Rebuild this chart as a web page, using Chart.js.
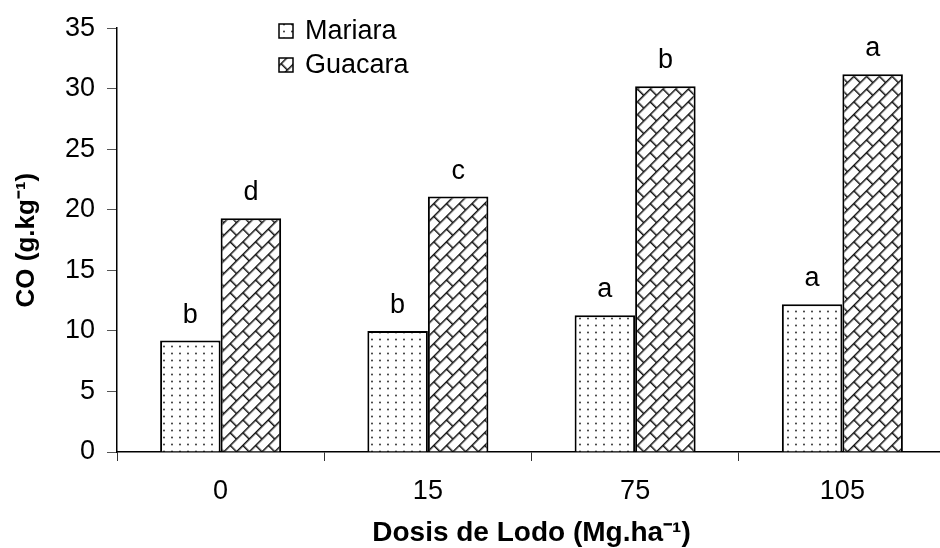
<!DOCTYPE html>
<html>
<head>
<meta charset="utf-8">
<script src="https://cdn.jsdelivr.net/npm/chart.js@4"></script>
<style>
  html, body { margin: 0; padding: 0; background: #fff; overflow: hidden; }
  #wrap { width: 948px; height: 548px; }
</style>
</head>
<body>
<div id="wrap"><canvas id="chartCO" width="948" height="548"></canvas></div>
<script>
// data
var dosis = ['0', '15', '75', '105'];
var mariara = [9.2, 10.0, 11.3, 12.2];
var guacara = [19.3, 21.1, 30.2, 31.2];
var letrasMariara = ['b', 'b', 'a', 'a'];
var letrasGuacara = ['d', 'c', 'b', 'a'];
var seriesNames = ['Mariara', 'Guacara'];

var FONT = 'Arial, "Liberation Sans", sans-serif';

function dotPattern() {
  var c = document.createElement('canvas');
  c.width = 8; c.height = 7;
  var g = c.getContext('2d');
  g.fillStyle = '#fff';
  g.fillRect(0, 0, 8, 7);
  g.fillStyle = '#222';
  g.beginPath();
  g.arc(4, 3.5, 0.9, 0, Math.PI * 2);
  g.fill();
  return g.createPattern(c, 'repeat');
}

function brickPattern() {
  var w = 18, h = 9;
  var c = document.createElement('canvas');
  c.width = w; c.height = h * 2;
  var g = c.getContext('2d');
  g.fillStyle = '#fff';
  g.fillRect(0, 0, w, h * 2);
  g.strokeStyle = '#111';
  g.lineWidth = 1.5;
  g.beginPath();
  g.moveTo(0, 0.75); g.lineTo(w, 0.75);
  g.moveTo(0, h + 0.75); g.lineTo(w, h + 0.75);
  g.moveTo(0.75, 0); g.lineTo(0.75, h);
  g.moveTo(w / 2 + 0.75, h); g.lineTo(w / 2 + 0.75, h * 2);
  g.stroke();
  var p = g.createPattern(c, 'repeat');
  p.setTransform(new DOMMatrix().rotate(-45));
  return p;
}

var fillMariara = dotPattern();
var fillGuacara = brickPattern();

var barLetters = {
  id: 'barLetters',
  afterDatasetsDraw: function(chart) {
    var ctx = chart.ctx;
    var letras = [letrasMariara, letrasGuacara];
    ctx.save();
    ctx.font = '27px ' + FONT;
    ctx.fillStyle = '#000';
    ctx.textAlign = 'center';
    ctx.textBaseline = 'alphabetic';
    chart.data.datasets.forEach(function(ds, i) {
      chart.getDatasetMeta(i).data.forEach(function(bar, j) {
        ctx.fillText(letras[i][j], bar.x, bar.y - 18);
      });
    });
    ctx.restore();
  }
};

var boxLegend = {
  id: 'boxLegend',
  afterDraw: function(chart) {
    var ctx = chart.ctx;
    var rows = [31, 65];
    ctx.save();
    chart.data.datasets.forEach(function(ds, i) {
      var y = rows[i];
      ctx.fillStyle = ds.backgroundColor;
      ctx.fillRect(279, y - 7, 14, 14);
      ctx.strokeStyle = '#000';
      ctx.lineWidth = 1.5;
      ctx.strokeRect(279, y - 7, 14, 14);
      ctx.fillStyle = '#000';
      ctx.font = '27px ' + FONT;
      ctx.textAlign = 'left';
      ctx.textBaseline = 'middle';
      ctx.fillText(ds.label, 305, y + 1);
    });
    ctx.restore();
  }
};

var ctx = document.getElementById('chartCO').getContext('2d');
var chartCO = new Chart(ctx, {
  type: 'bar',
  data: {
    labels: dosis,
    datasets: [
      { label: seriesNames[0], data: mariara, backgroundColor: fillMariara, borderColor: '#000', borderWidth: 2, borderSkipped: 'bottom' },
      { label: seriesNames[1], data: guacara, backgroundColor: fillGuacara, borderColor: '#000', borderWidth: 2, borderSkipped: 'bottom' }
    ]
  },
  options: {
    responsive: false,
    animation: false,
    categoryPercentage: 0.584,
    barPercentage: 1,
    layout: { padding: { top: 27, right: 2, left: 0, bottom: 0 } },
    plugins: { legend: { display: false }, tooltip: { enabled: false } },
    scales: {
      x: {
        grid: { drawOnChartArea: false, drawTicks: true, tickLength: 9, color: '#333', lineWidth: 1, offset: true },
        border: { display: true, color: '#000', width: 1.5 },
        ticks: { color: '#000', font: { family: FONT, size: 27 }, padding: 14 },
        title: { display: true, text: 'Dosis de Lodo (Mg.ha⁻¹)', color: '#000', font: { family: FONT, size: 28, weight: 'bold' }, padding: { top: 0, bottom: -2 } },
        afterFit: function(s) { s.height = 96; }
      },
      y: {
        min: 0, max: 35,
        grid: { drawOnChartArea: false, drawTicks: true, tickLength: 10, color: '#555', lineWidth: 1 },
        border: { display: true, color: '#000', width: 1.5 },
        ticks: { stepSize: 5, color: '#000', font: { family: FONT, size: 27 }, padding: 12 },
        title: { display: true, text: 'CO (g.kg⁻¹)', color: '#000', font: { family: FONT, size: 26, weight: 'bold' }, padding: { top: 11, bottom: 0 } },
        afterFit: function(s) { s.width = 117; }
      }
    }
  },
  plugins: [barLetters, boxLegend]
});
</script>
</body>
</html>
